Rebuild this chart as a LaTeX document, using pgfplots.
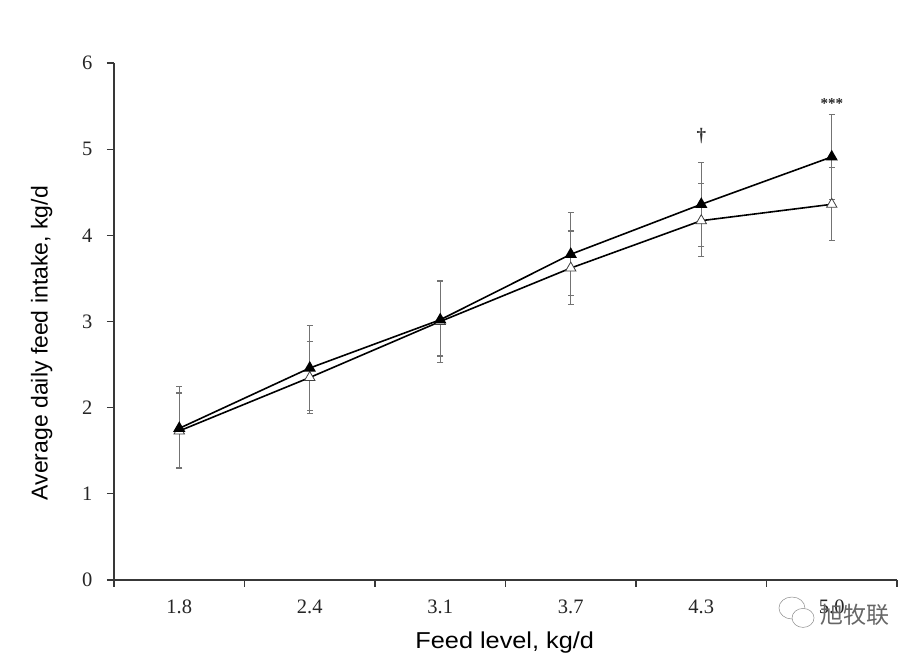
\documentclass[border=0pt]{standalone}
\usepackage{pgfplots}
\pgfplotsset{compat=1.18}
\usepackage{fontspec}
\setmainfont{Liberation Serif}
\newfontfamily\arialf{Liberation Sans}
\newfontfamily\cjk{Noto Sans CJK SC}
\definecolor{axc}{gray}{0.22}
\definecolor{errc}{gray}{0.45}
\begin{document}
\begin{tikzpicture}[x=1pt,y=1pt]
\path[use as bounding box,fill=white] (-114,-75) rectangle (806,580);
\begin{axis}[
  scale only axis, width=783pt, height=517pt,
  xmin=0, xmax=6, ymin=0, ymax=6,
  axis lines=left, axis line style={-,color=axc,line width=1.5pt},
  tick align=outside, tick pos=left,
  /pgf/number format/assume math mode=true,
  xtick={0,1,2,3,4,5,6},
  xticklabels={1.8,2.4,3.1,3.7,4.3,5.0},
  x tick label as interval,
  xtick style={color=axc,line width=1.2pt},
  ytick={0,1,2,3,4,5,6},
  ytick style={color=axc,line width=1.2pt},
  major tick length=7pt,
  tick label style={font=\fontsize{20.5}{22}\selectfont, color=black!85},
  xticklabel style={yshift=-9pt},
  yticklabel style={xshift=-11pt},
  xlabel={\arialf\fontsize{23}{24}\selectfont\scalebox{1.1}[1]{Feed level, kg/d}},
  ylabel={\arialf\fontsize{23}{24}\selectfont Average daily feed intake, kg/d},
  xlabel style={at={(axis description cs:0.499,0)},anchor=north,yshift=-48pt},
  ylabel style={at={(axis description cs:0,0.458)},anchor=south,yshift=58pt},
  clip=false,
]
\addplot[color=black,line width=1.6pt,mark=triangle*,mark size=6pt,
  mark options={fill=white,draw=black!75,line width=0.8pt},
  error bars/.cd,y dir=both,y explicit,
  error bar style={color=errc,line width=1.4pt},error mark options={color=errc,line width=1.1pt,mark size=3pt,rotate=90}]
  table[x=x,y=y,y error plus=p,y error minus=m]{
x y p m
0.5 1.73 0.44 0.44
1.5 2.35 0.42 0.42
2.5 3.00 0.46 0.40
3.5 3.62 0.43 0.42
4.5 4.17 0.43 0.42
5.5 4.36 0.43 0.42
};
\addplot[color=black,line width=1.6pt,mark=triangle*,mark size=5.5pt,
  mark options={fill=black,draw=black},
  error bars/.cd,y dir=both,y explicit,
  error bar style={color=errc,line width=1.4pt},error mark options={color=errc,line width=1.1pt,mark size=3pt,rotate=90}]
  table[x=x,y=y,y error plus=p,y error minus=m]{
x y p m
0.5 1.76 0.49 0.46
1.5 2.46 0.49 0.49
2.5 3.02 0.46 0.50
3.5 3.78 0.49 0.48
4.5 4.36 0.49 0.49
5.5 4.91 0.49 0.49
};
\node[font=\fontsize{19}{20}\selectfont\bfseries,color=black!80] at (axis cs:4.5,5.15) {†};
\node[font=\fontsize{15}{16}\selectfont\bfseries,color=black!85] at (axis cs:5.5,5.53) {***};
\node[font=\cjk\fontsize{23}{24}\selectfont,color=black!60,anchor=west,inner sep=0pt] at (axis cs:5.41,-0.405) {旭牧联};
\draw[black!45,line width=0.5pt,fill=white] (axis cs:5.195,-0.325) ellipse (13pt and 11pt);
\draw[black!45,line width=0.5pt,fill=white] (axis cs:5.28,-0.44) ellipse (11pt and 9.5pt);
\end{axis}
\end{tikzpicture}
\end{document}
